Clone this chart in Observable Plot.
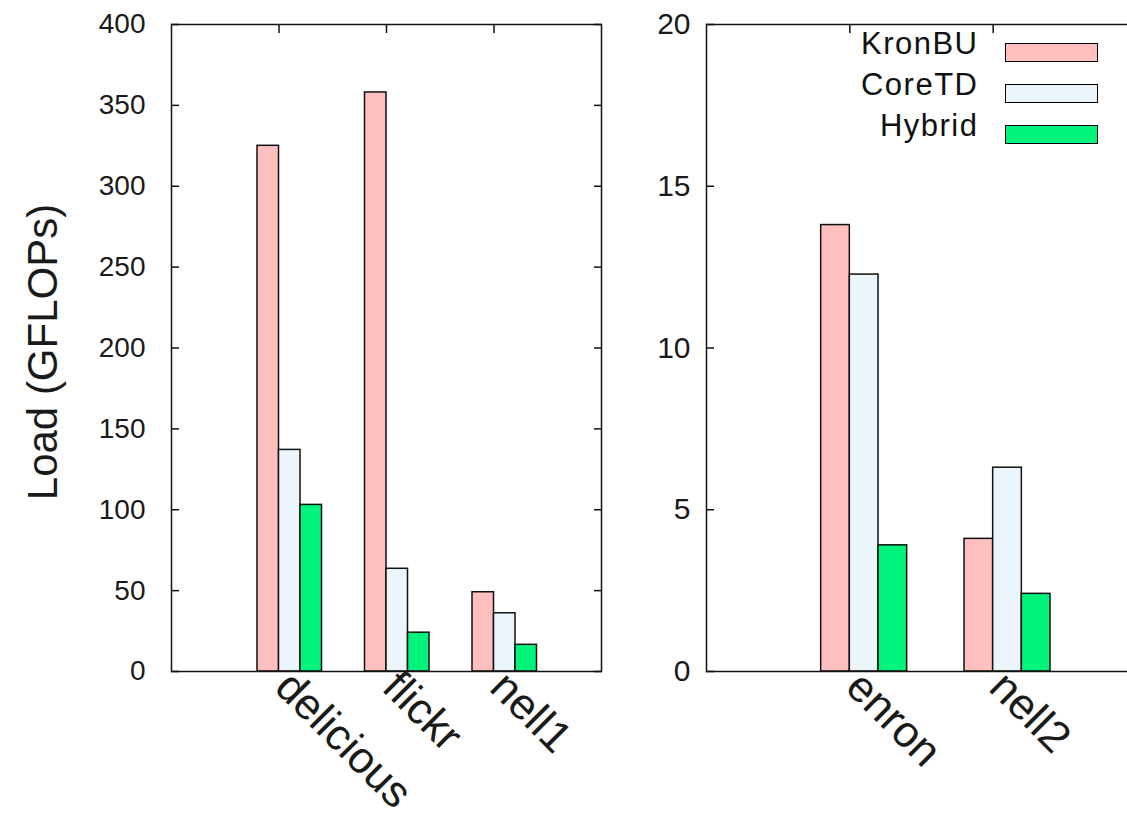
<!DOCTYPE html>
<html><head><meta charset="utf-8">
<script src="https://cdn.jsdelivr.net/npm/d3@7"></script>
<script src="https://cdn.jsdelivr.net/npm/@observablehq/plot@0.6"></script>
<style>
html,body{margin:0;padding:0;background:#fff;overflow:hidden;width:1127px;height:819px;}
#wrap{position:relative;width:1127px;height:819px;overflow:hidden;font-family:"Liberation Sans",Arial,sans-serif;color:#111;}
.panel{position:absolute;top:0;}
g[aria-label="xlabels"] text{letter-spacing:2.5px;}
.lg-text{position:absolute;font-size:31px;line-height:30px;letter-spacing:1.5px;text-align:right;white-space:nowrap;}
.lg-box{position:absolute;box-sizing:border-box;border:1.5px solid #000;}
</style></head><body><div id="wrap"></div>
<script>
const series = ["KronBU", "CoreTD", "Hybrid"];
const seriesColors = ["#ffbfbf", "#edf5fc", "#00f47c"];

const leftCategories = ["delicious", "flickr", "nell1"];
const leftKronBU = [325, 358, 49];
const leftCoreTD = [137, 63.5, 36];
const leftHybrid = [103, 24, 16.5];
const leftTicks = [0, 50, 100, 150, 200, 250, 300, 350, 400];

const rightCategories = ["enron", "nell2"];
const rightKronBU = [13.8, 4.1];
const rightCoreTD = [12.27, 6.3];
const rightHybrid = [3.9, 2.4];
const rightTicks = [0, 5, 10, 15, 20];

const yLabel = "Load (GFLOPs)";

const FONT = "Liberation Sans, Arial, sans-serif";

function panel({cats, vals, ticks, xMax, width, marginLeft, marginRight, tickPadding, tickFont, title}) {
  const rows = [];
  cats.forEach((c, i) => series.forEach((s, j) => rows.push({cat: c, pos: i + 1, k: j, series: s, value: vals[j][i]})));
  const catRows = cats.map((c, i) => ({c, pos: i + 1}));
  const marks = [
    Plot.rect(rows, {
      x1: d => d.pos - 0.2 + 0.2 * d.k,
      x2: d => d.pos + 0.2 * d.k,
      y1: 0, y2: "value",
      fill: "series", stroke: "#111", strokeWidth: 1.5
    }),
    Plot.frame({stroke: "#111", strokeWidth: 1.5}),
    Plot.axisY({ticks, tickSize: 0, tickPadding, fontSize: tickFont, label: null, fill: "#1a1a1a"}),
    Plot.axisY({ticks, tickSize: -8, tickFormat: () => "", label: null, strokeWidth: 1.5}),
    Plot.axisY({anchor: "right", ticks, tickSize: -8, tickFormat: () => "", label: null, strokeWidth: 1.5}),
    Plot.axisX({anchor: "top", ticks: catRows.map(d => d.pos), tickSize: -8, tickFormat: () => "", label: null, strokeWidth: 1.5}),
    Plot.text(catRows, {
      x: "pos", text: "c", frameAnchor: "bottom", rotate: 45,
      textAnchor: "start", lineAnchor: "bottom", dx: -6, dy: 18,
      fontSize: 44, fill: "#1a1a1a", ariaLabel: "xlabels"
    })
  ];
  if (title) {
    marks.push(Plot.text([title], {
      frameAnchor: "left", rotate: -90, dx: -128, dy: 4,
      fontSize: 42, textAnchor: "middle", lineAnchor: "middle", fill: "#1a1a1a"
    }));
  }
  return Plot.plot({
    width, height: 819,
    marginLeft, marginRight, marginTop: 24, marginBottom: 148,
    x: {domain: [0, xMax]},
    y: {domain: [ticks[0], ticks[ticks.length - 1]]},
    color: {domain: series, range: seriesColors},
    style: {fontFamily: FONT, background: "transparent", overflow: "visible", color: "#111"},
    marks
  });
}

const wrap = document.getElementById("wrap");

const left = panel({
  cats: leftCategories, vals: [leftKronBU, leftCoreTD, leftHybrid], ticks: leftTicks,
  xMax: 4, width: 640, marginLeft: 171, marginRight: 39, tickPadding: 26, tickFont: 28, title: yLabel
});
left.classList.add("panel");
left.style.left = "0px";
wrap.appendChild(left);

const right = panel({
  cats: rightCategories, vals: [rightKronBU, rightCoreTD, rightHybrid], ticks: rightTicks,
  xMax: 3, width: 500, marginLeft: 66, marginRight: 4, tickPadding: 16, tickFont: 30, title: null
});
right.classList.add("panel");
right.style.left = "640px";
wrap.appendChild(right);

// legend
series.forEach((s, i) => {
  const t = document.createElement("div");
  t.className = "lg-text";
  t.textContent = s;
  t.style.left = "700px";
  t.style.width = "278.5px";
  t.style.top = (29 + 41 * i) + "px";
  wrap.appendChild(t);
  const b = document.createElement("div");
  b.className = "lg-box";
  b.style.left = "1005px";
  b.style.width = "93px";
  b.style.height = "19px";
  b.style.top = (43 + 41 * i) + "px";
  b.style.background = seriesColors[i];
  wrap.appendChild(b);
});
</script>
</body></html>
